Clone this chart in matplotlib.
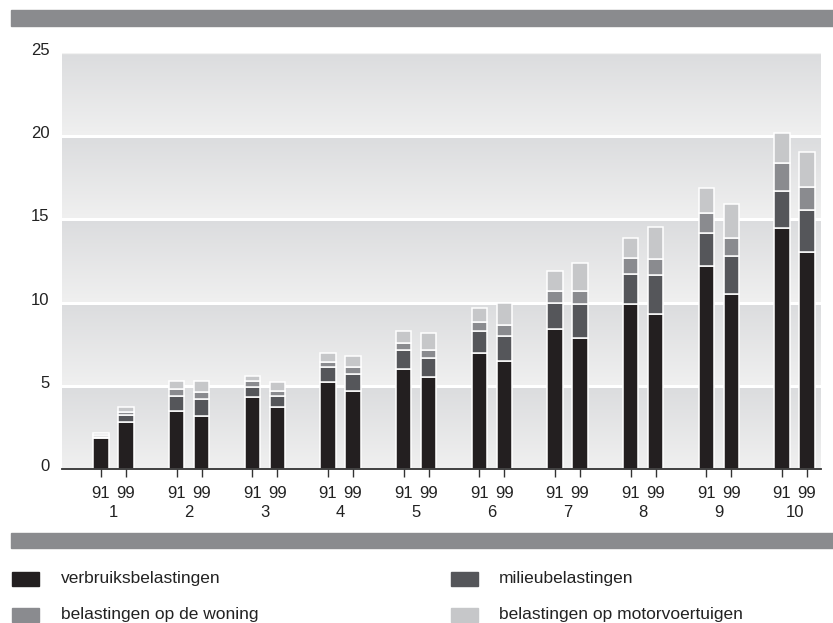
import matplotlib
matplotlib.use("Agg")
import matplotlib.pyplot as plt
import numpy as np
from matplotlib.colors import LinearSegmentedColormap
from matplotlib.patches import Rectangle
import matplotlib.transforms as mtransforms

plt.rcParams["font.family"] = ["Liberation Sans", "DejaVu Sans"]

# --- data: tax burden per decile, 1991 vs 1999 ---
deciles = ["1", "2", "3", "4", "5", "6", "7", "8", "9", "10"]
years = ["91", "99"]

verbruik_91 = [1.85, 3.5, 4.3, 5.2, 6.0, 7.0, 8.4, 9.9, 12.2, 14.5]
verbruik_99 = [2.85, 3.2, 3.7, 4.7, 5.5, 6.5, 7.9, 9.3, 10.5, 13.05]
milieu_91 = [0.1, 0.9, 0.6, 0.9, 1.15, 1.3, 1.6, 1.8, 2.0, 2.2]
milieu_99 = [0.4, 1.0, 0.7, 1.0, 1.2, 1.5, 2.0, 2.35, 2.3, 2.5]
woning_91 = [0.1, 0.4, 0.4, 0.35, 0.45, 0.55, 0.7, 1.0, 1.2, 1.7]
woning_99 = [0.2, 0.45, 0.3, 0.4, 0.45, 0.65, 0.8, 1.0, 1.1, 1.4]
motor_91 = [0.1, 0.5, 0.3, 0.55, 0.7, 0.85, 1.2, 1.2, 1.5, 1.8]
motor_99 = [0.25, 0.65, 0.5, 0.7, 1.05, 1.35, 1.7, 1.9, 2.0, 2.1]

labels = ["verbruiksbelastingen", "milieubelastingen",
          "belastingen op de woning", "belastingen op motorvoertuigen"]
colors = ["#231f20", "#55565a", "#8a8b8f", "#c6c7c9"]
band_color = "#8a8b8e"
text_color = "#222222"
fs = 12

fig = plt.figure(figsize=(8.33, 6.23), dpi=100)
W, H = 833, 623

# header / footer strips
fig.patches.append(Rectangle((11 / W, 1 - 26 / H), 1, 16 / H,
                             transform=fig.transFigure, color=band_color))
fig.patches.append(Rectangle((11 / W, 1 - 548 / H), 1, 15 / H,
                             transform=fig.transFigure, color=band_color))

ax = fig.add_axes([62 / W, 1 - 469 / H, (821 - 62) / W, (469 - 53) / H])
xmin, xmax = -0.68, 9.35
ax.set_xlim(xmin, xmax)
ax.set_ylim(0, 25)

# shaded bands, darker at the top of each 5-unit band
cmap = LinearSegmentedColormap.from_list("band", ["#f0f0f0", "#dbdcde"])
grad = np.linspace(0, 1, 100).reshape(-1, 1)
for k in range(5):
    ax.imshow(grad, cmap=cmap, origin="lower", aspect="auto",
              extent=[xmin, xmax, k * 5, k * 5 + 5], zorder=0)
for y in [5, 10, 15, 20]:
    ax.axhline(y, color="white", lw=2.2, zorder=1)
ax.axhline(25, color="#f2f2f2", lw=1, zorder=1)

x = np.arange(len(deciles))
off = 0.165
width = 0.2
series = [(verbruik_91, verbruik_99), (milieu_91, milieu_99),
          (woning_91, woning_99), (motor_91, motor_99)]
bottom91 = np.zeros(len(x))
bottom99 = np.zeros(len(x))
for (v91, v99), c in zip(series, colors):
    ax.bar(x - off, v91, width, bottom=bottom91, color=c,
           edgecolor="white", linewidth=1.1, zorder=3)
    ax.bar(x + off, v99, width, bottom=bottom99, color=c,
           edgecolor="white", linewidth=1.1, zorder=3)
    bottom91 += np.array(v91)
    bottom99 += np.array(v99)

for s in ["left", "right", "top"]:
    ax.spines[s].set_visible(False)
ax.spines["bottom"].set_color("#333333")
ax.spines["bottom"].set_linewidth(1.3)
ax.spines["bottom"].set_zorder(4)

ax.set_yticks([0, 5, 10, 15, 20, 25])
ax.tick_params(axis="y", length=0, pad=9, labelsize=fs, labelcolor=text_color)
for lab in ax.get_yticklabels():
    lab.set_transform(lab.get_transform() +
                      mtransforms.ScaledTranslation(0, 4 / 100, fig.dpi_scale_trans))

xt = np.ravel(np.column_stack([x - off, x + off]))
ax.set_xticks(xt)
ax.set_xticklabels(years * len(deciles))
ax.tick_params(axis="x", length=6, width=1, color="#333333", pad=6,
               labelsize=fs, labelcolor=text_color)

for xi, d in zip(x, deciles):
    ax.text(xi, -0.105, d, transform=ax.get_xaxis_transform(),
            ha="center", va="center", fontsize=fs, color=text_color)

# legend
legend_pos = [(12, 572, 61), (451, 572, 499), (12, 608, 61), (451, 608, 499)]
for (lx, ly, tx), lab, c in zip(legend_pos, labels, colors):
    fig.patches.append(Rectangle((lx / W, 1 - (ly + 14) / H), 27 / W, 14 / H,
                                 transform=fig.transFigure, color=c))
    fig.text(tx / W, 1 - (ly + 7) / H, lab, ha="left", va="center",
             fontsize=fs + 0.5, color=text_color)

fig.savefig("out.png", dpi=100)
